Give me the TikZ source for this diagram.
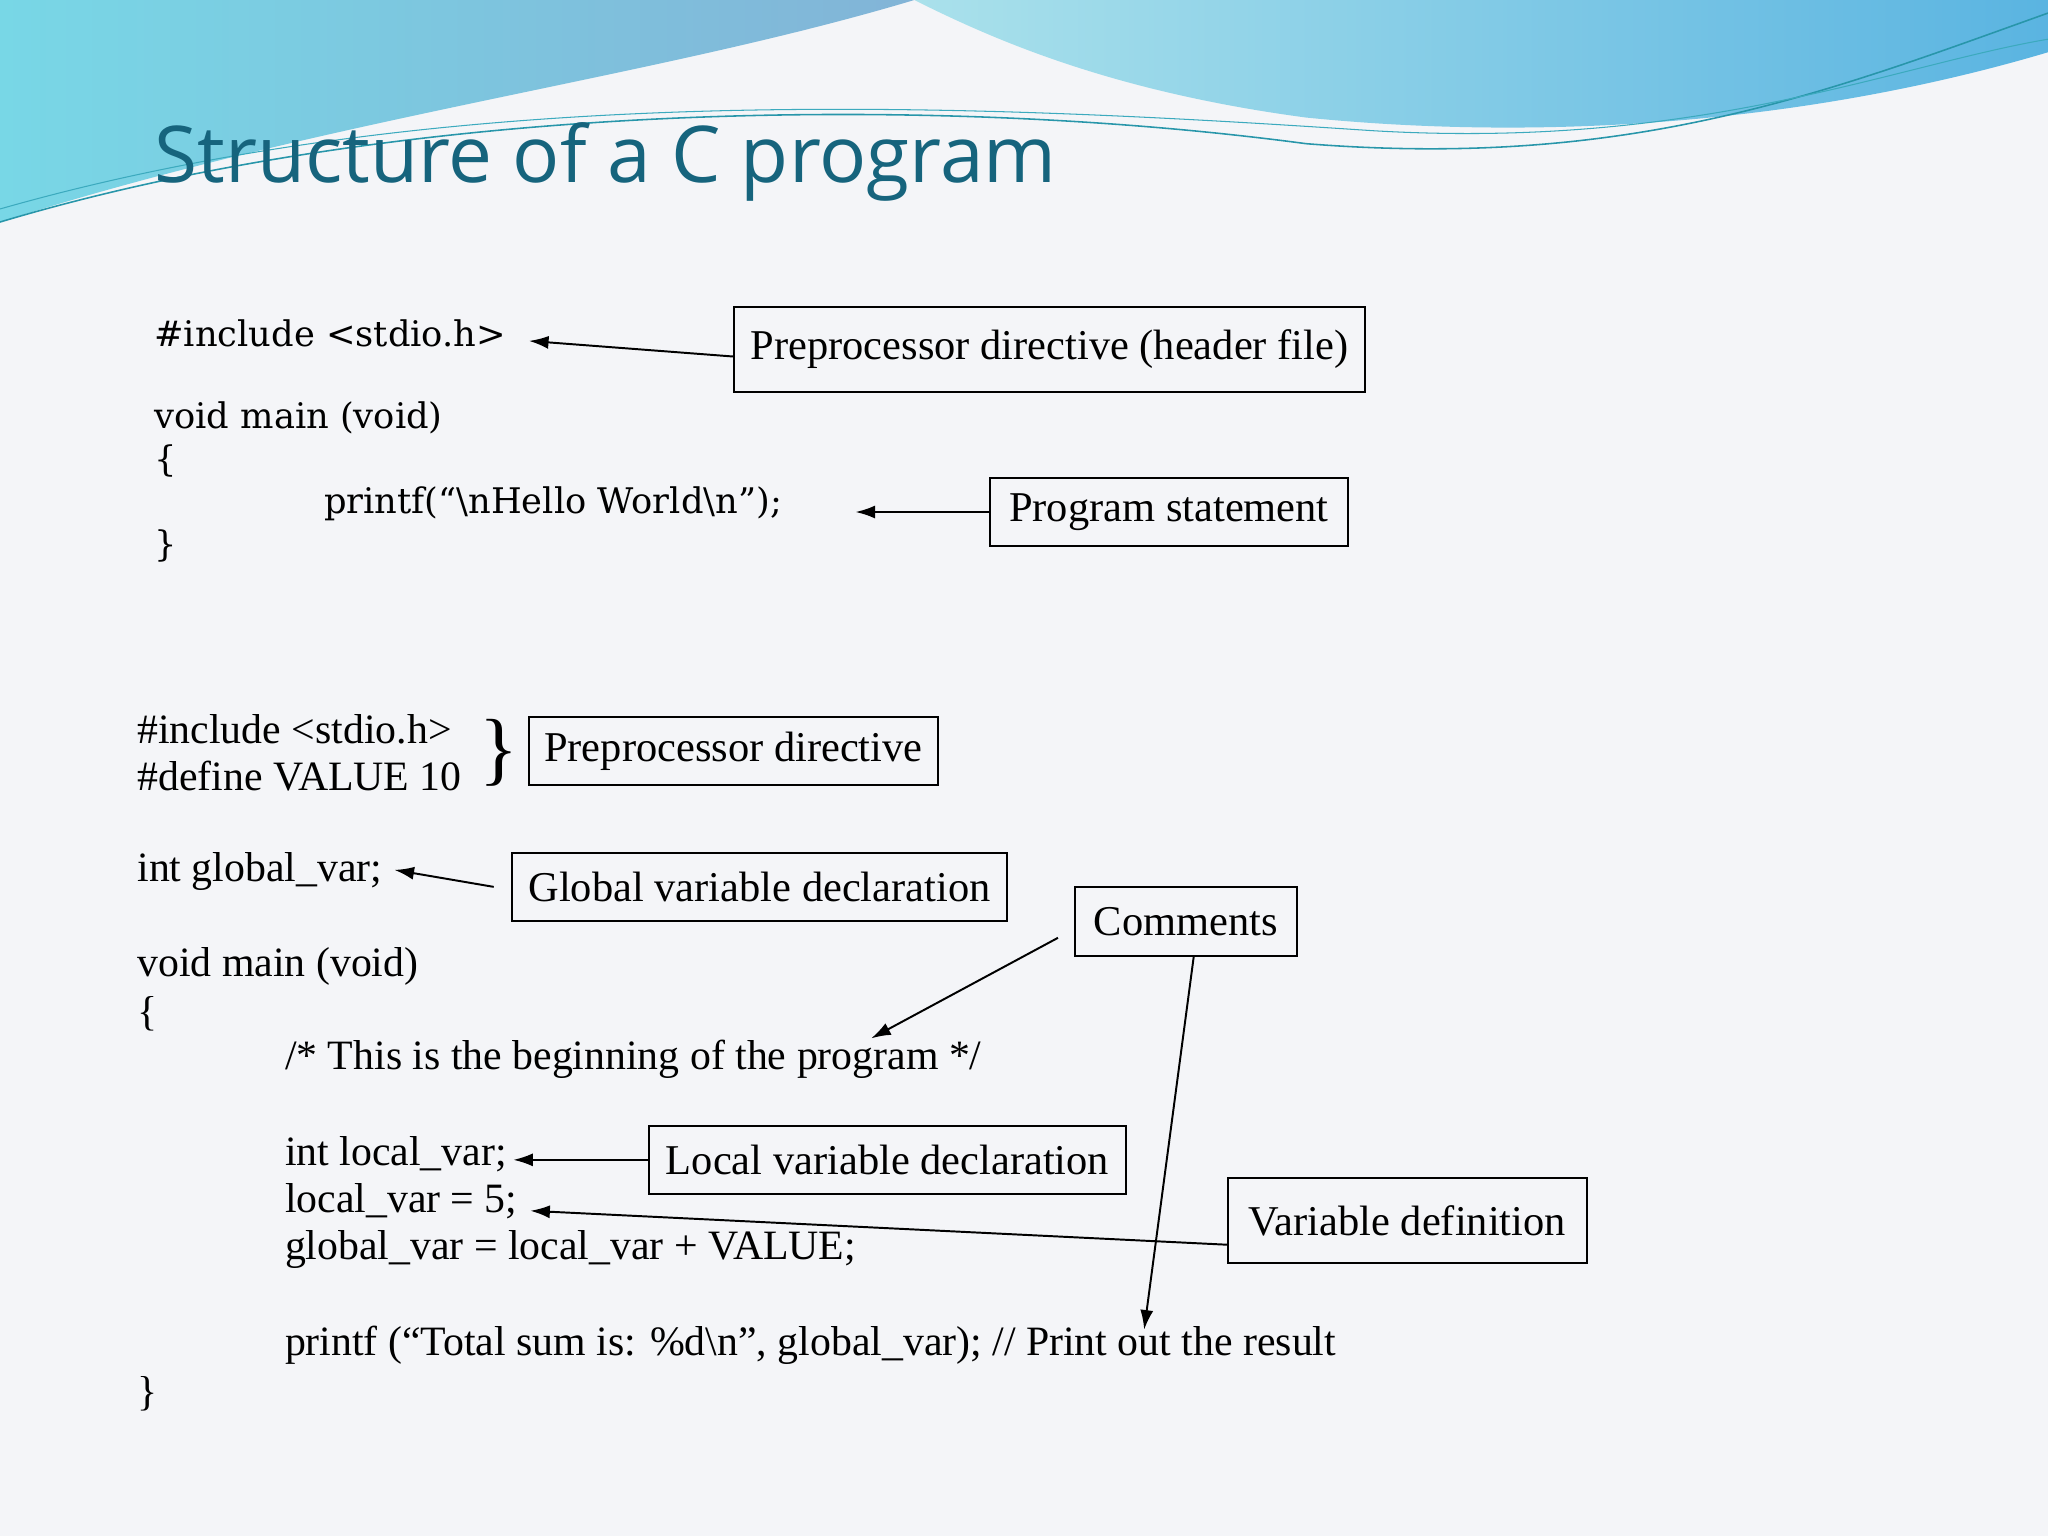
\documentclass[tikz,border=0pt]{standalone}
\usepackage{fontspec}
\usetikzlibrary{arrows.meta}
\setmainfont{Liberation Serif}
\newfontfamily\titlefont{Open Sans}
\newfontfamily\topfont{DejaVu Serif}
\definecolor{bgc}{RGB}{244,245,248}
\definecolor{w1a}{RGB}{120,215,230}
\definecolor{w1b}{RGB}{130,180,215}
\definecolor{w2a}{RGB}{170,225,235}
\definecolor{w2b}{RGB}{90,180,225}
\definecolor{ln1}{RGB}{40,150,170}
\definecolor{ln2}{RGB}{60,170,190}
\definecolor{ttl}{RGB}{22,100,125}
\begin{document}
\begin{tikzpicture}[x=1pt,y=-1pt,
  code/.style={anchor=west,inner sep=0pt,font=\fontsize{32}{32}\selectfont},
  tcode/.style={anchor=west,inner sep=0pt,font=\topfont\fontsize{27}{27}\selectfont},
  lbl/.style={draw,line width=1.5pt,inner sep=0pt,font=\fontsize{32.5}{32.5}\selectfont},
  arr/.style={line width=1.5pt,-{Latex[length=15pt,width=10pt]}}]
\useasboundingbox (0,0) rectangle (1568,1176);
\fill[bgc] (0,0) rectangle (1568,1176);
% top waves
\shade[left color=w1a,right color=w1b]
 (0,0) -- (700,0) .. controls (500,60) and (250,90) .. (0,170) -- cycle;
\shade[left color=w2a,right color=w2b]
 (700,0) -- (1568,0) -- (1568,40) .. controls (1400,90) and (1200,110) .. (1000,90) .. controls (850,70) and (760,30) .. (700,0) -- cycle;
\draw[line width=1.2pt,ln1] (0,170) .. controls (300,80) and (700,70) .. (1000,110) .. controls (1250,130) and (1400,70) .. (1568,10);
\draw[line width=0.8pt,ln2] (0,160) .. controls (350,60) and (750,80) .. (1050,100) .. controls (1300,115) and (1450,50) .. (1568,30);
\node[anchor=base west,inner sep=0pt,font=\titlefont\fontsize{60}{60}\selectfont,text=ttl] (title) at (118,140) {Structure of a C program};
% top code
\node[tcode] (c1) at (118,255) {\#include <stdio.h>};
\node[tcode] (c2) at (118,320) {void main (void)};
\node[tcode] (c3) at (118,353) {\{};
\node[tcode] (c4) at (248,386) {printf(“\textbackslash nHello World\textbackslash n”);};
\node[tcode] (c5) at (118,418) {\}};
\node[lbl,minimum width=483,minimum height=65] (b1) at (803.5,267.5) {Preprocessor directive (header file)};
\node[lbl,minimum width=274,minimum height=52] (b2) at (895,392) {Program statement};
\coordinate (e1) at (405,261);
\coordinate (s1) at (562,273);
\coordinate (e2) at (655,392);
\draw[arr] (s1) -- (e1);
\draw[arr] (b2.west) -- (e2);
% bottom code
\node[code] (d1) at (105,558) {\#include <stdio.h>};
\node[code] (d2) at (105,594) {\#define VALUE 10};
\node[anchor=center,inner sep=0pt,font=\fontsize{62}{62}\selectfont] (br) at (382,576) {\}};
\node[code] (d3) at (105,667) {int global\_var;};
\node[code] (d4) at (105,740) {void main (void)};
\node[code] (d5) at (105,776) {\{};
\node[code] (d6) at (218,811) {/* This is the beginning of the program */};
\node[code] (d7) at (218,884) {int local\_var;};
\node[code] (d8) at (218,920) {local\_var = 5;};
\node[code] (d9) at (218,957) {global\_var = local\_var + VALUE;};
\node[code] (d10) at (218,1030) {printf (“Total sum is: \%d\textbackslash n”, global\_var); // Print out the result};
\node[code] (d11) at (105,1067) {\}};
\node[lbl,minimum width=313,minimum height=52] (b3) at (561.5,575) {Preprocessor directive};
\node[lbl,minimum width=379,minimum height=52] (b4) at (581.5,679) {Global variable declaration};
\node[lbl,minimum width=170,minimum height=53] (b5) at (908,705.5) {Comments};
\node[lbl,minimum width=365,minimum height=52] (b6) at (679.5,888) {Local variable declaration};
\node[lbl,minimum width=275,minimum height=65] (b7) at (1077.5,934.5) {Variable definition};
\coordinate (s4) at (378,679); \coordinate (e4) at (302,666);
\coordinate (s5) at (810,718); \coordinate (e5) at (667,795);
\coordinate (s6) at (914,732); \coordinate (e6) at (876,1018);
\coordinate (e7) at (393,888);
\coordinate (s8) at (940,953); \coordinate (e8) at (406,927);
\draw[arr] (s4) -- (e4);
\draw[arr] (s5) -- (e5);
\draw[arr] (s6) -- (e6);
\draw[arr] (b6.west) -- (e7);
\draw[arr] (s8) -- (e8);
\end{tikzpicture}
\end{document}
